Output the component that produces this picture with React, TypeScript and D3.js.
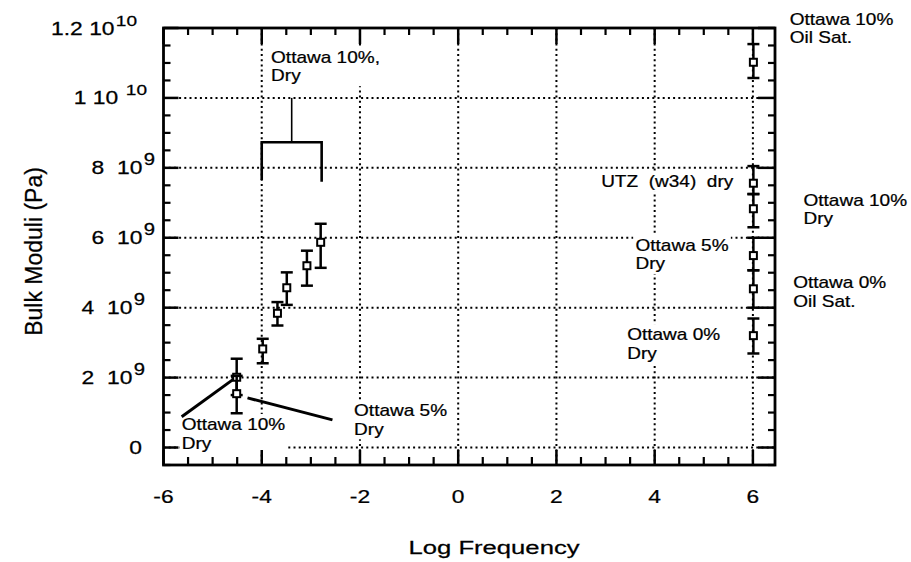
import React, { useLayoutEffect, useRef, useState } from "react";
import * as d3 from "d3";

// ---- data ----
const lowX = [-4.51, -4.51, -3.98, -3.68, -3.49, -3.08, -2.8];
const lowY = [2.01e9, 1.54e9, 2.82e9, 3.84e9, 4.57e9, 5.2e9, 5.87e9];
const lowLo = [1.5e9, 0.98e9, 2.41e9, 3.49e9, 4.08e9, 4.63e9, 5.14e9];
const lowHi = [2.54e9, 2.05e9, 3.11e9, 4.16e9, 5.01e9, 5.63e9, 6.4e9];

const highX = [6.01, 6.01, 6.01, 6.01, 6.01, 6.01];
const highY = [11.02e9, 7.56e9, 6.83e9, 5.49e9, 4.54e9, 3.2e9];
const highLo = [10.57e9, 7.25e9, 6.3e9, 5.07e9, 4.0e9, 2.69e9];
const highHi = [11.54e9, 8.05e9, 7.25e9, 6.0e9, 5.07e9, 3.69e9];

const xTickValues = [-6, -4, -2, 0, 2, 4, 6];
const xTickLabels = ["-6", "-4", "-2", "0", "2", "4", "6"];
const yTickValues = [0, 2e9, 4e9, 6e9, 8e9, 1e10, 1.2e10];
const yTickMantissa = ["0", "2  10", "4  10", "6  10", "8  10", "1 10 ", "1.2 10"];
const yTickExp = ["", "9", "9", "9", "9", "10", "10"];

const annotLines = [
  ["Ottawa 10%,", "Dry"],
  ["UTZ  (w34)  dry"],
  ["Ottawa 10%", "Oil Sat."],
  ["Ottawa 10%", "Dry"],
  ["Ottawa 5%", "Dry"],
  ["Ottawa 0%", "Oil Sat."],
  ["Ottawa 0%", "Dry"],
  ["Ottawa 10%", "Dry"],
  ["Ottawa 5%", "Dry"],
];
const annotX = [-3.81, 2.91, 6.75, 7.03, 3.61, 6.82, 3.44, -5.63, -2.12];
const annotY = [11.0e9, 7.45e9, 12.09e9, 6.91e9, 5.63e9, 4.55e9, 3.07e9, 0.5e9, 0.9e9];

const leaders = [
  [[-5.63, 0.88e9], [-4.51, 2.02e9]],
  [[-4.29, 1.42e9], [-2.56, 0.79e9]],
];
const bracket = [[-4.0, 7.65e9], [-4.0, 8.73e9], [-2.78, 8.73e9], [-2.78, 7.6e9]];
const bracketStem = [[-3.39, 8.73e9], [-3.39, 1.0e10]];

// ---- layout ----
const W = 911, H = 562;
const L = 163.5, R = 775, T = 28, B = 465;
const x = d3.scaleLinear().domain([-6, 6.45]).range([L, R]);
const y = d3.scaleLinear().domain([-0.5e9, 1.2e10]).range([B, T]);
const FONT = "'Liberation Sans', Arial, Helvetica, sans-serif";
const TXT = { fill: "#000", stroke: "#000", strokeWidth: 0.25 };
const yLabelRight = [142, 145, 145, 155, 155, 147, 137];

function Label({ px, py, lines }: { px: number; py: number; lines: string[] }) {
  const ref = useRef<SVGTextElement>(null);
  const [bb, setBb] = useState<any>(null);
  useLayoutEffect(() => {
    if (ref.current) {
      const b = ref.current.getBBox();
      setBb({ x: b.x, y: b.y, width: b.width, height: b.height });
    }
  }, []);
  return (
    <g transform={`translate(${px},${py}) scale(1.12,1)`}>
      {bb && (
        <rect x={bb.x - 2} y={bb.y - 1} width={bb.width + 4} height={bb.height + 2} fill="white" />
      )}
      <text ref={ref} fontSize={17} fontFamily={FONT} {...TXT} style={{ whiteSpace: "pre" }}>
        {lines.map((l, i) => (
          <tspan key={i} x={0} dy={i === 0 ? 0 : 18.5}>
            {l}
          </tspan>
        ))}
      </text>
    </g>
  );
}

function ErrPoint({ cx, cy, lo, hi }: { cx: number; cy: number; lo: number; hi: number }) {
  const cw = 6;
  return (
    <g>
      <line x1={cx} x2={cx} y1={lo} y2={hi} stroke="#000" strokeWidth={2.5} />
      <line x1={cx - cw} x2={cx + cw} y1={lo} y2={lo} stroke="#000" strokeWidth={2.5} />
      <line x1={cx - cw} x2={cx + cw} y1={hi} y2={hi} stroke="#000" strokeWidth={2.5} />
      <rect x={cx - 3.5} y={cy - 3.5} width={7} height={7} fill="white" stroke="#000" strokeWidth={2} />
    </g>
  );
}

export default function App() {
  const xGrid = [-4, -2, 0, 2, 4, 6];
  const yGrid = [0, 2e9, 4e9, 6e9, 8e9, 1e10];
  const xMinor = d3.range(-5.5, 6.45, 0.5).filter((v) => Math.abs(v / 2 - Math.round(v / 2)) > 1e-6);
  const yMinor = d3.range(-0.5e9, 1.2e10, 0.5e9).filter((v) => Math.abs(v / 2e9 - Math.round(v / 2e9)) > 1e-6);
  const line = d3.line<number[]>().x((d) => x(d[0])).y((d) => y(d[1]));

  return (
    <svg width={W} height={H} style={{ position: "absolute", left: 0, top: 0, background: "white" }}>
      <rect width={W} height={H} fill="white" />
      {/* grid */}
      <g stroke="#000" strokeWidth={2} strokeDasharray="2 3.2">
        {xGrid.map((v) => (
          <line key={"gx" + v} x1={x(v)} x2={x(v)} y1={T} y2={B} />
        ))}
        {yGrid.map((v) => (
          <line key={"gy" + v} x1={L} x2={R} y1={y(v)} y2={y(v)} />
        ))}
      </g>

      {/* annotations */}
      {annotLines.map((ls, i) => (
        <Label key={"a" + i} px={x(annotX[i])} py={y(annotY[i])} lines={ls} />
      ))}

      {/* leaders */}
      {leaders.map((p, i) => (
        <path key={"l" + i} d={line(p as any) || ""} stroke="#000" strokeWidth={3} fill="none" />
      ))}
      <path d={line(bracket as any) || ""} stroke="#000" strokeWidth={2.6} fill="none" />
      <path d={line(bracketStem as any) || ""} stroke="#000" strokeWidth={1.6} fill="none" />

      {/* data */}
      {lowX.map((v, i) => (
        <ErrPoint key={"lp" + i} cx={x(v)} cy={y(lowY[i])} lo={y(lowLo[i])} hi={y(lowHi[i])} />
      ))}
      {highX.map((v, i) => (
        <ErrPoint key={"hp" + i} cx={x(v)} cy={y(highY[i])} lo={y(highLo[i])} hi={y(highHi[i])} />
      ))}

      {/* ticks */}
      <g stroke="#000">
        {xTickValues.map((v) => (
          <g key={"xt" + v} strokeWidth={2.5}>
            <line x1={x(v)} x2={x(v)} y1={B} y2={B - 15} />
            <line x1={x(v)} x2={x(v)} y1={T} y2={T + 16} />
          </g>
        ))}
        {xMinor.map((v) => (
          <g key={"xm" + v} strokeWidth={2.2}>
            <line x1={x(v)} x2={x(v)} y1={B} y2={B - 8} />
            <line x1={x(v)} x2={x(v)} y1={T} y2={T + 7} />
          </g>
        ))}
        {yTickValues.map((v) => (
          <g key={"yt" + v} strokeWidth={2.5}>
            <line x1={L} x2={L + 15} y1={y(v)} y2={y(v)} />
            <line x1={R} x2={R - 17} y1={y(v)} y2={y(v)} />
          </g>
        ))}
        {yMinor.map((v) => (
          <g key={"ym" + v} strokeWidth={2.2}>
            <line x1={L} x2={L + 7} y1={y(v)} y2={y(v)} />
            <line x1={R} x2={R - 7} y1={y(v)} y2={y(v)} />
          </g>
        ))}
      </g>
      {/* frame */}
      <rect x={L} y={T} width={R - L} height={B - T} fill="none" stroke="#000" strokeWidth={2.8} />

      {/* x tick labels */}
      {xTickValues.map((v, i) => (
        <g key={"xl" + v} transform={`translate(${x(v)},503) scale(1.2,1)`}>
          <text textAnchor="middle" fontSize={19} fontFamily={FONT} {...TXT}>
            {xTickLabels[i]}
          </text>
        </g>
      ))}
      {/* y tick labels */}
      {yTickValues.map((v, i) => (
        <g key={"yl" + v} transform={`translate(${yLabelRight[i]},${y(v) + 6.5}) scale(1.27,1)`}>
          <text textAnchor="end" fontSize={18} fontFamily={FONT} {...TXT} style={{ whiteSpace: "pre" }}>
            {yTickMantissa[i]}
            {yTickExp[i] && (
              <tspan dx={1} dy={-9} fontSize={yTickExp[i].length > 1 ? 15 : 16}>
                {yTickExp[i]}
              </tspan>
            )}
          </text>
        </g>
      ))}

      {/* axis titles */}
      <g transform="translate(494,553.5) scale(1.35,1)">
        <text textAnchor="middle" fontSize={19} fontFamily={FONT} {...TXT}>
          Log Frequency
        </text>
      </g>
      <text
        transform="translate(41.5,251.5) rotate(-90)"
        textAnchor="middle"
        fontSize={23}
        fontFamily={FONT}
        {...TXT}
      >
        Bulk Moduli (Pa)
      </text>
    </svg>
  );
}
